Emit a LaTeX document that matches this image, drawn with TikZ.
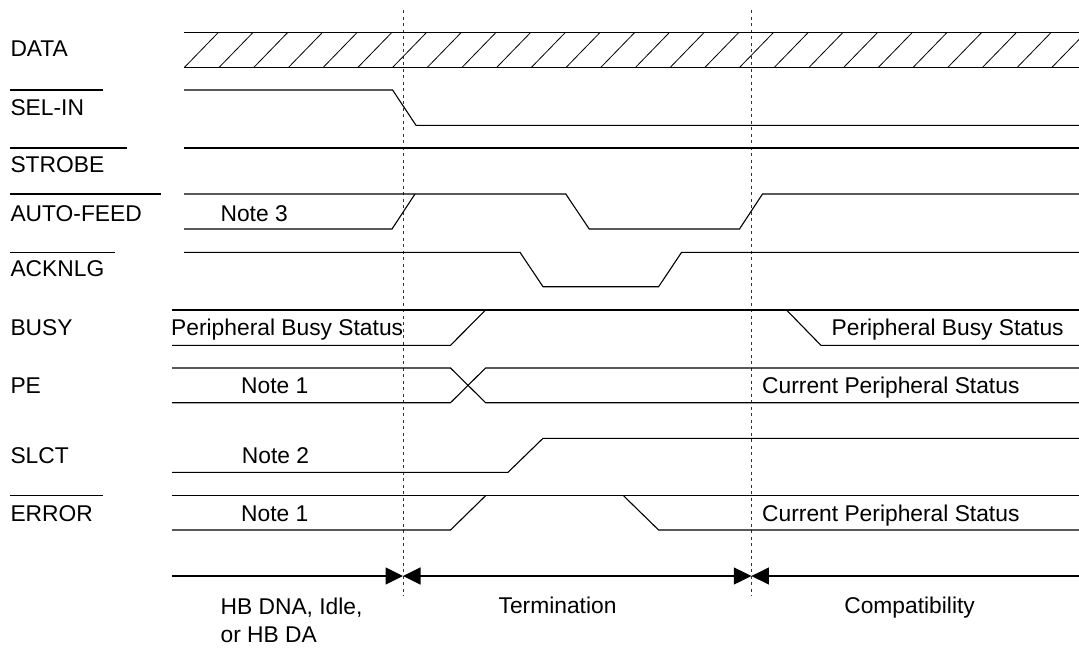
\documentclass[tikz,border=0pt]{standalone}
\usepackage{fontspec}
\setmainfont{Liberation Sans}
\usetikzlibrary{arrows.meta}
\begin{document}
\begin{tikzpicture}[x=1pt,y=-1pt,
  sig/.style={line width=1.1pt,black,line join=miter},
  hatchline/.style={line width=0.8pt,black},
  lbl/.style={inner sep=0pt,anchor=base west,font=\fontsize{22.8}{27}\selectfont},
  clbl/.style={inner sep=0pt,anchor=base,font=\fontsize{22.8}{27}\selectfont},
  guide/.style={line width=0.9pt,dash pattern=on 3pt off 3.5pt,black!80},
  phase/.style={line width=1.1pt,black},
  >={Triangle[length=17.5pt,width=17pt]}]
\useasboundingbox (0,0) rectangle (1079,651);
\fill[white] (0,0) rectangle (1079,651);

% ---- signal names ----
\node[lbl] (nData) at (10.3,56.7) {DATA};
\node[lbl] (nSel) at (10.3,115.3) {SEL-IN};
\node[lbl] (nStb) at (10.3,172.7) {STROBE};
\node[lbl] (nAf) at (10.3,221) {AUTO-FEED};
\node[lbl] (nAck) at (10.3,276.7) {ACKNLG};
\node[lbl] (nBusy) at (10.3,335) {BUSY};
\node[lbl] (nPe) at (10.3,393.3) {PE};
\node[lbl] (nSlct) at (10.3,463.3) {SLCT};
\node[lbl] (nErr) at (10.3,521.7) {ERROR};

% overbars
\draw[sig] (10.3,90) -- (103.3,90);
\draw[sig] (10.3,148) -- (126.7,148);
\draw[sig] (10.3,194) -- (160.8,194);
\draw[sig] (10.3,252.3) -- (114.7,252.3);
\draw[sig] (10.3,495.7) -- (103.3,495.7);

% ---- guides ----
\coordinate (g1top) at (403,10);
\coordinate (g1bot) at (403,596);
\coordinate (g2top) at (751.4,10);
\coordinate (g2bot) at (751.4,596);
\draw[guide] (g1top) -- (g1bot);
\draw[guide] (g2top) -- (g2bot);

% ---- DATA ----
\draw[sig] (184,32.5) -- (1079,32.5);
\draw[sig] (184,67.5) -- (1079,67.5);
\begin{scope}
\clip (184,32.5) rectangle (1079,67.5);
\foreach \i in {0,...,26}
  \draw[hatchline] ({184.3+34.7*\i},67.5) -- ++(34,-35);
\end{scope}

% ---- SEL-IN ----
\draw[sig] (184,90) -- (392.6,90) -- (416,125.3) -- (1079,125.3);
% ---- STROBE ----
\draw[sig] (184,148) -- (1079,148);
% ---- AUTO-FEED ----
\draw[sig] (184,194) -- (565.8,194) -- (589.2,229) -- (739.5,229) -- (762.5,194) -- (1079,194);
\draw[sig] (184,229) -- (392,229) -- (415,194);
\node[lbl] (n3) at (220.4,221) {Note 3};
% ---- ACKNLG ----
\draw[sig] (184,252.3) -- (520,252.3) -- (543,286.7) -- (658.6,286.7) -- (681.6,252.3) -- (1079,252.3);
% ---- BUSY ----
\draw[sig] (172.2,310) -- (1079,310);
\draw[sig] (172.2,345.3) -- (450.5,345.3) -- (485.6,310);
\draw[sig] (786.5,310) -- (820.9,345.3) -- (1079,345.3);
\node[lbl] (pbs1) at (171,335) {Peripheral Busy Status};
\node[lbl] (pbs2) at (831.5,335) {Peripheral Busy Status};
% ---- PE ----
\draw[sig] (172.2,368) -- (450.5,368) -- (485.6,402.7) -- (1079,402.7);
\draw[sig] (172.2,402.7) -- (450.5,402.7) -- (485.6,368) -- (1079,368);
\node[clbl] (n1a) at (274.7,393.3) {Note 1};
\node[lbl] (cps1) at (762,393.3) {Current Peripheral Status};
% ---- SLCT ----
\draw[sig] (172.2,472.3) -- (508,472.3) -- (543,438.3) -- (1079,438.3);
\node[clbl] (n2) at (275.5,463.3) {Note 2};
% ---- ERROR ----
\draw[sig] (172.2,495.7) -- (1079,495.7);
\draw[sig] (172.2,530) -- (450.5,530) -- (485.6,495.7);
\draw[sig] (623.5,495.7) -- (658.6,530) -- (1079,530);
\node[clbl] (n1b) at (274.7,521.7) {Note 1};
\node[lbl] (cps2) at (762,521) {Current Peripheral Status};

% ---- phase timeline ----
\coordinate (t0) at (172.2,576);
\coordinate (t1) at (403,576);
\coordinate (t2) at (751.4,576);
\coordinate (t3) at (1079,576);
\draw[phase,->] (t0) -- (t1);
\draw[phase,<->] (t1) -- (t2);
\draw[phase,<-] (t2) -- (t3);

\node[lbl] (ph1a) at (220.4,614) {HB DNA, Idle,};
\node[lbl] (ph1b) at (220.4,642) {or HB DA};
\node[clbl] (ph2) at (557.5,613) {Termination};
\node[clbl] (ph3) at (909.6,613) {Compatibility};
\end{tikzpicture}
\end{document}
